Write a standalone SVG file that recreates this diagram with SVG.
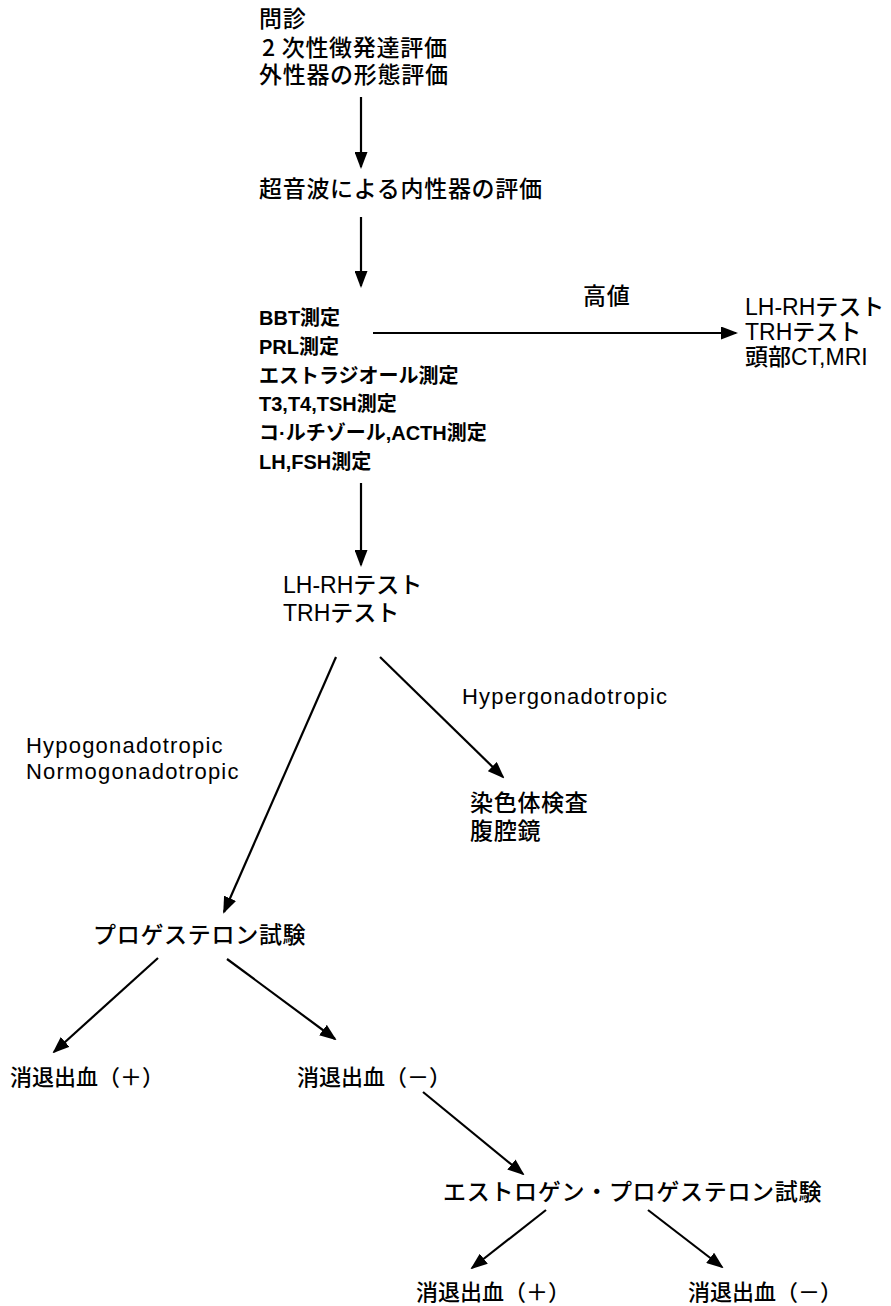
<svg xmlns="http://www.w3.org/2000/svg" width="891" height="1306" viewBox="0 0 891 1306">
<defs>
<marker id="ah" markerUnits="userSpaceOnUse" markerWidth="17" markerHeight="13" refX="15" refY="6.5" orient="auto">
<path d="M0,0 L17,6.5 L0,13 z" fill="#000"/>
</marker>
<style>
text{fill:#000}
.jp{font-family:"Noto Sans CJK JP",sans-serif;font-size:23px;letter-spacing:0.7px;font-weight:500}
.mid{font-family:"Liberation Sans","Noto Sans CJK JP",sans-serif;font-size:20px;font-weight:bold}
.lat{font-family:"Liberation Sans","Noto Sans CJK JP",sans-serif;font-size:23px;font-weight:500}
.en{font-family:"Liberation Sans",sans-serif;font-size:22px;letter-spacing:1.2px}
.res{font-family:"Noto Sans CJK JP",sans-serif;font-size:22px;font-weight:500}
.conn line{stroke:#000;stroke-width:2.2;marker-end:url(#ah)}
</style>
</defs>
<rect width="891" height="1306" fill="#fff"/>
<g id="n-intake">
<text class="jp"><tspan x="259" y="27">問診</tspan><tspan x="262" y="56">2 次性徴発達評価</tspan><tspan x="259" y="83">外性器の形態評価</tspan></text>
</g>
<g id="n-ultrasound">
<text class="jp" x="259" y="197">超音波による内性器の評価</text>
</g>
<g id="n-measure">
<text class="mid"><tspan x="259" y="325">BBT測定</tspan><tspan x="259" y="354">PRL測定</tspan><tspan x="259" y="383">エストラジオール測定</tspan><tspan x="259" y="411">T3,T4,TSH測定</tspan><tspan x="259" y="440">コ·ルチゾール,ACTH測定</tspan><tspan x="259" y="469">LH,FSH測定</tspan></text>
</g>
<g id="n-high">
<text class="lat"><tspan x="745" y="315">LH-RHテスト</tspan><tspan x="745" y="340">TRHテスト</tspan><tspan x="745" y="365">頭部CT,MRI</tspan></text>
</g>
<g id="n-test">
<text class="lat"><tspan x="283" y="593">LH-RHテスト</tspan><tspan x="283" y="621">TRHテスト</tspan></text>
</g>
<g id="n-chrom">
<text class="jp"><tspan x="470" y="811">染色体検査</tspan><tspan x="470" y="839">腹腔鏡</tspan></text>
</g>
<g id="n-prog">
<text class="jp" x="93" y="943">プロゲステロン試験</text>
</g>
<g id="n-wb1p"><text class="res" x="10" y="1085">消退出血（＋）</text></g>
<g id="n-wb1m"><text class="res" x="297" y="1085">消退出血（－）</text></g>
<g id="n-ep">
<text class="jp" x="443" y="1200">エストロゲン・プロゲステロン試験</text>
</g>
<g id="n-wb2p"><text class="res" x="416" y="1300">消退出血（＋）</text></g>
<g id="n-wb2m"><text class="res" x="688" y="1300">消退出血（－）</text></g>
<g id="labels">
<text class="jp" x="583" y="304">高値</text>
<text class="en" x="462" y="704">Hypergonadotropic</text>
<text class="en"><tspan x="26" y="753">Hypogonadotropic</tspan><tspan x="26" y="779">Normogonadotropic</tspan></text>
</g>
<g id="connectors" class="conn">
<line x1="361" y1="97" x2="361" y2="167"/>
<line x1="361" y1="217" x2="361" y2="286"/>
<line x1="373" y1="333" x2="736" y2="333"/>
<line x1="361" y1="483" x2="361" y2="565"/>
<line x1="336" y1="657" x2="224" y2="912"/>
<line x1="380" y1="657" x2="503" y2="777"/>
<line x1="158" y1="958" x2="54" y2="1052"/>
<line x1="227" y1="959" x2="335" y2="1039"/>
<line x1="423" y1="1092" x2="523" y2="1174"/>
<line x1="546" y1="1210" x2="472" y2="1268"/>
<line x1="648" y1="1210" x2="722" y2="1267"/>
</g>
</svg>
